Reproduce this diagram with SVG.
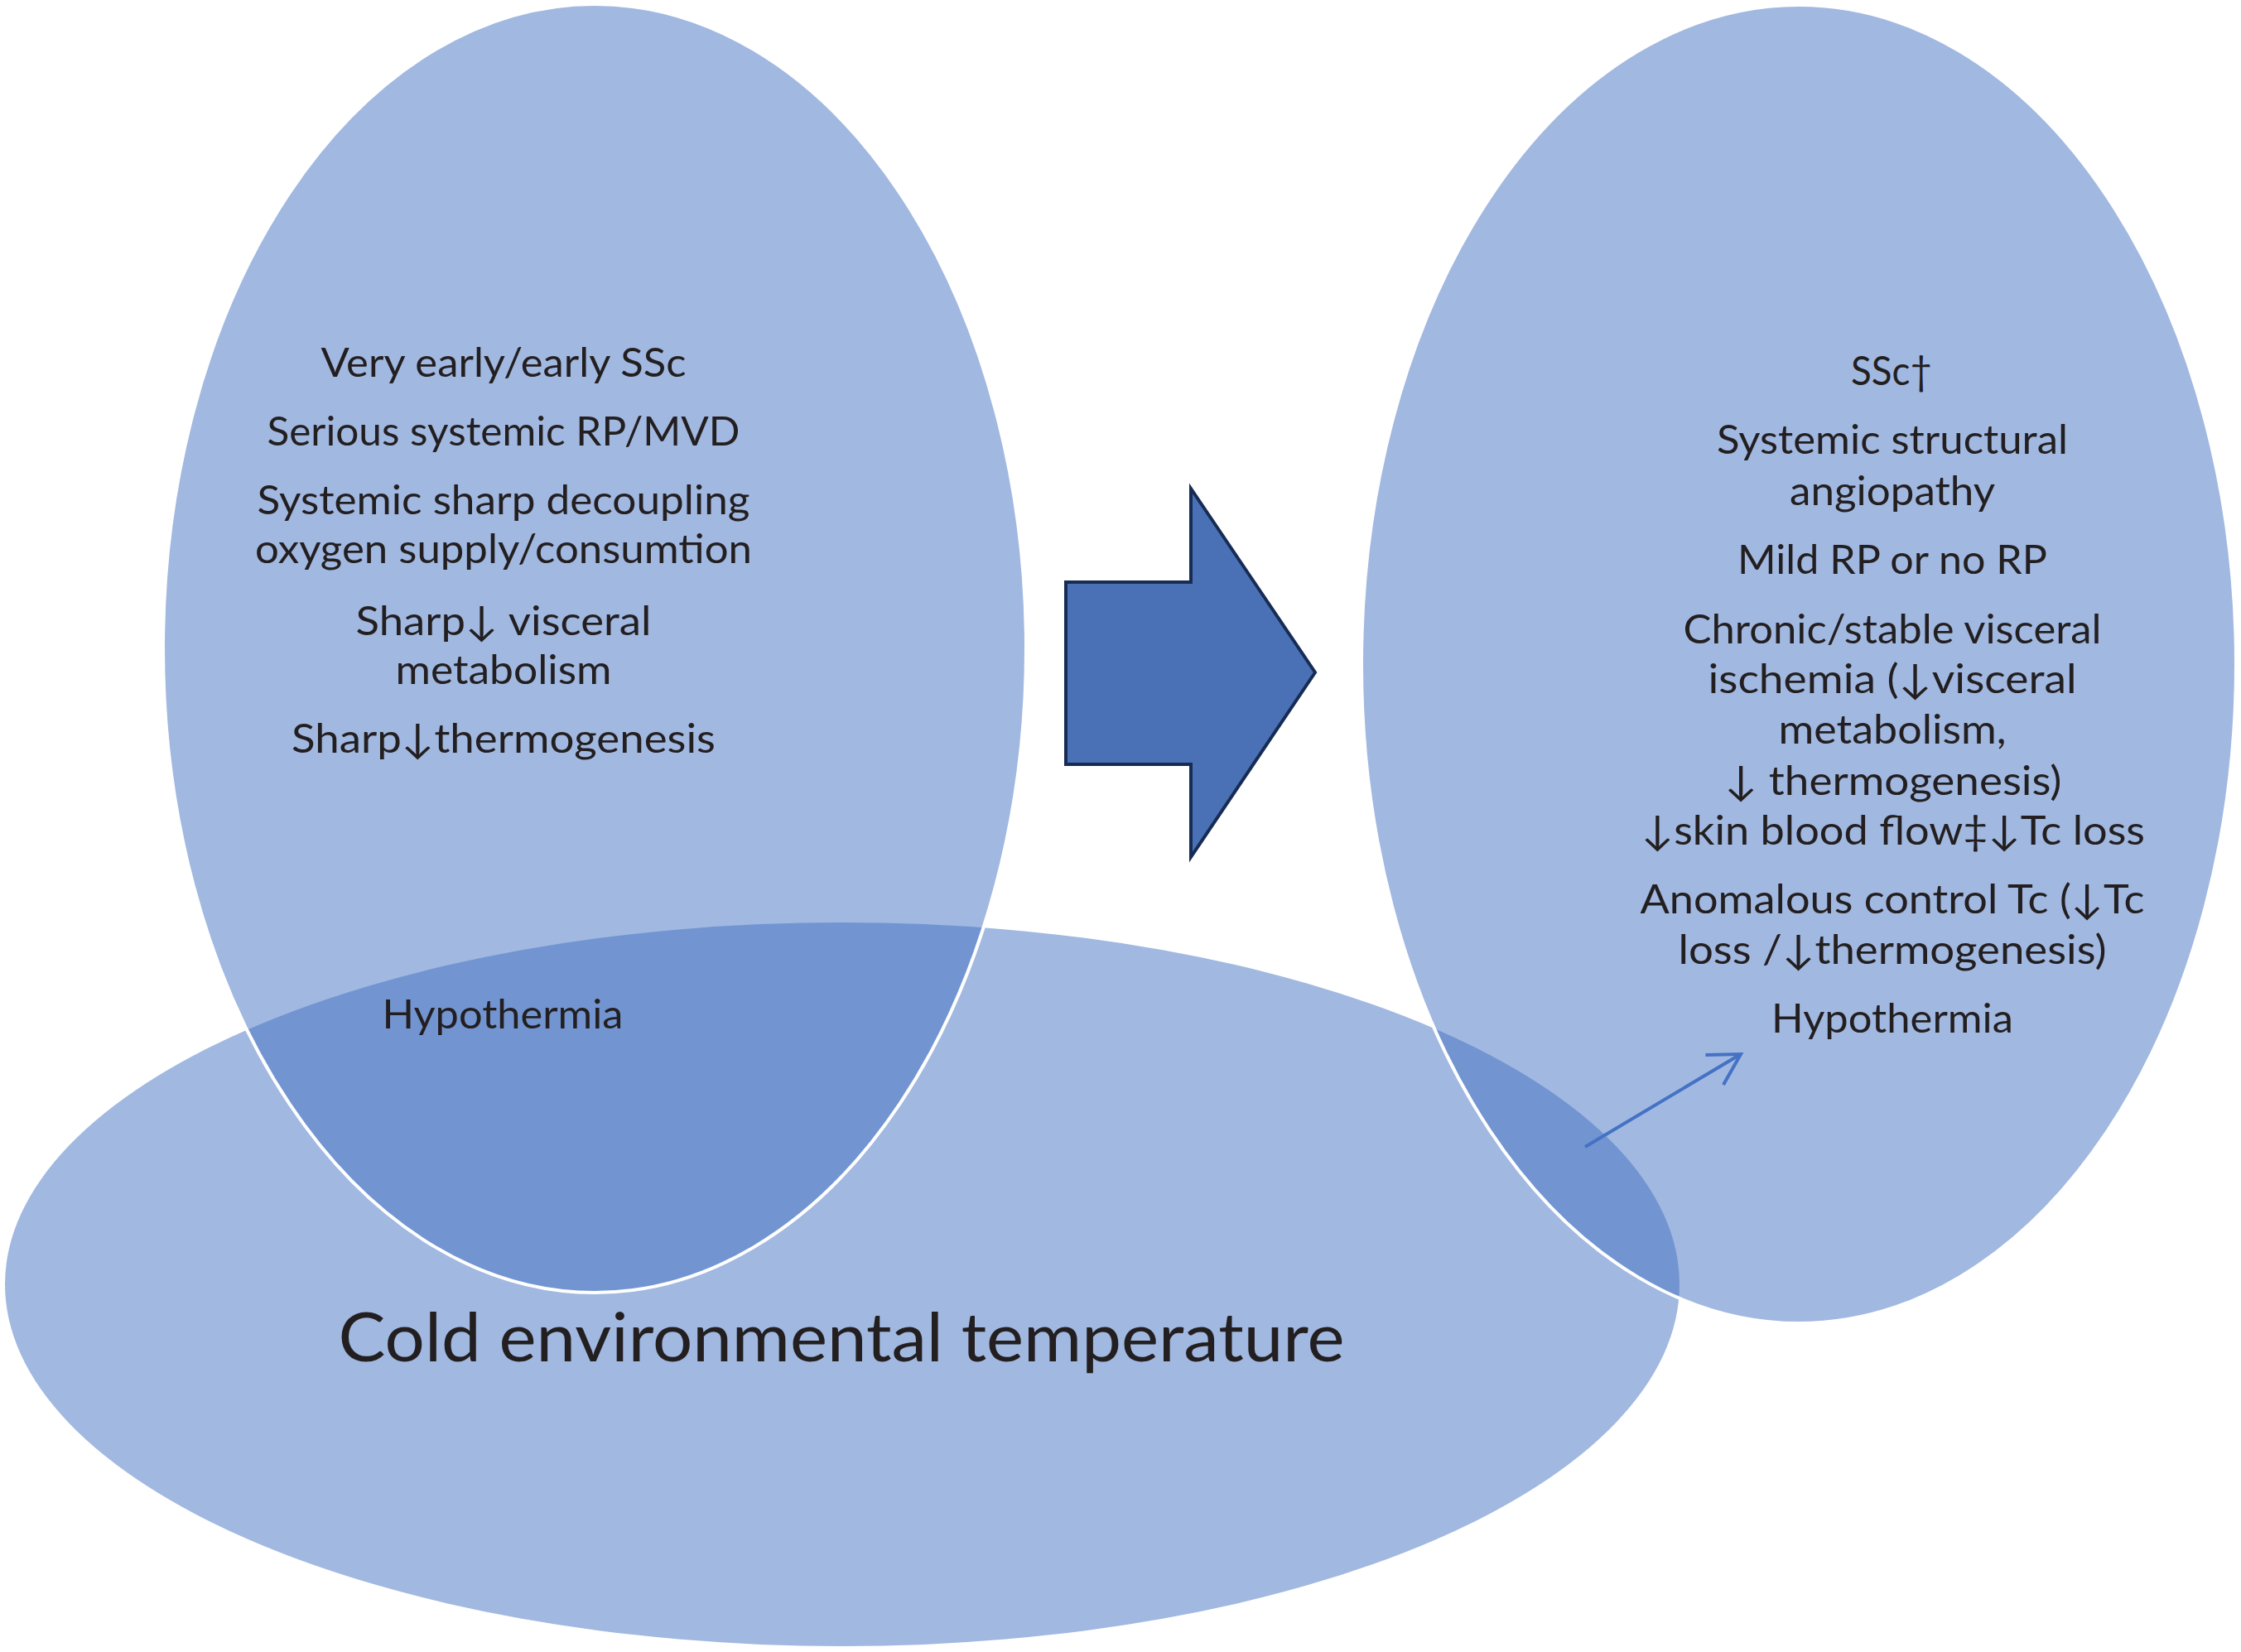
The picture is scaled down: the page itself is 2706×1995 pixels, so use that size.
<svg xmlns="http://www.w3.org/2000/svg" width="2706" height="1995" viewBox="0 0 2706 1995">
<defs>
<style>
.ell{fill:#4472C4;fill-opacity:0.5}
.top{stroke:#FFFFFF;stroke-width:4}
.t{font-family:Lato,"DejaVu Sans",sans-serif;font-size:49px;fill:#231F20;text-anchor:middle}
.big{font-size:81px}
.conn{stroke:#4472C4;stroke-width:4;fill:none}
</style>
<marker id="open" markerUnits="userSpaceOnUse" markerWidth="60" markerHeight="60" viewBox="-45 -30 50 60" refX="0" refY="0" orient="auto">
<path d="M-37,-21 L0,0 L-37,21" fill="none" stroke="#4472C4" stroke-width="4"/>
</marker>
</defs>
<rect width="2706" height="1995" fill="#FFFFFF"/>
<g id="cold">
<ellipse class="ell" cx="1017" cy="1551" rx="1011" ry="437"/>
<text class="t big" x="1016" y="1644" textLength="1215" lengthAdjust="spacingAndGlyphs">Cold environmental temperature</text>
</g>
<g id="early">
<ellipse class="ell top" cx="718" cy="783" rx="521" ry="778"/>
<text class="t" x="608" y="455" textLength="441" lengthAdjust="spacingAndGlyphs">Very early/early SSc</text>
<text class="t" x="608" y="538" textLength="571" lengthAdjust="spacingAndGlyphs">Serious systemic RP/MVD</text>
<text class="t" x="608" y="621" textLength="595" lengthAdjust="spacingAndGlyphs">Systemic sharp decoupling</text>
<text class="t" x="608" y="680" textLength="600" lengthAdjust="spacingAndGlyphs">oxygen supply/consumtion</text>
<text class="t" x="608" y="767" textLength="357" lengthAdjust="spacingAndGlyphs">Sharp↓ visceral</text>
<text class="t" x="608" y="826" textLength="261" lengthAdjust="spacingAndGlyphs">metabolism</text>
<text class="t" x="608" y="909" textLength="512" lengthAdjust="spacingAndGlyphs">Sharp↓thermogenesis</text>
<text class="t" x="607" y="1242" textLength="291" lengthAdjust="spacingAndGlyphs">Hypothermia</text>
</g>
<g id="ssc">
<ellipse class="ell top" cx="2172" cy="802" rx="528" ry="796"/>
<text class="t" x="2284" y="465" textLength="98" lengthAdjust="spacingAndGlyphs">SSc†</text>
<text class="t" x="2285" y="548" textLength="424" lengthAdjust="spacingAndGlyphs">Systemic structural</text>
<text class="t" x="2285" y="610" textLength="248" lengthAdjust="spacingAndGlyphs">angiopathy</text>
<text class="t" x="2285" y="693" textLength="374" lengthAdjust="spacingAndGlyphs">Mild RP or no RP</text>
<text class="t" x="2285" y="777" textLength="505" lengthAdjust="spacingAndGlyphs">Chronic/stable visceral</text>
<text class="t" x="2285" y="837" textLength="445" lengthAdjust="spacingAndGlyphs">ischemia (↓visceral</text>
<text class="t" x="2285" y="898" textLength="275" lengthAdjust="spacingAndGlyphs">metabolism,</text>
<text class="t" x="2286" y="960" textLength="407" lengthAdjust="spacingAndGlyphs">↓ thermogenesis)</text>
<text class="t" x="2286" y="1020" textLength="608" lengthAdjust="spacingAndGlyphs">↓skin blood flow‡↓Tc loss</text>
<text class="t" x="2285" y="1103" textLength="609" lengthAdjust="spacingAndGlyphs">Anomalous control Tc (↓Tc</text>
<text class="t" x="2285" y="1164" textLength="517" lengthAdjust="spacingAndGlyphs">loss /↓thermogenesis)</text>
<text class="t" x="2285" y="1247" textLength="292" lengthAdjust="spacingAndGlyphs">Hypothermia</text>
</g>
<g id="connectors">
<polygon id="bigArrow" points="1287,703 1438,703 1438,590 1588,812 1438,1035 1438,923 1287,923" fill="#4A71B5" stroke="#172C54" stroke-width="4"/>
<line class="conn" x1="1914" y1="1385" x2="2102" y2="1273" marker-end="url(#open)"/>
</g>
</svg>
